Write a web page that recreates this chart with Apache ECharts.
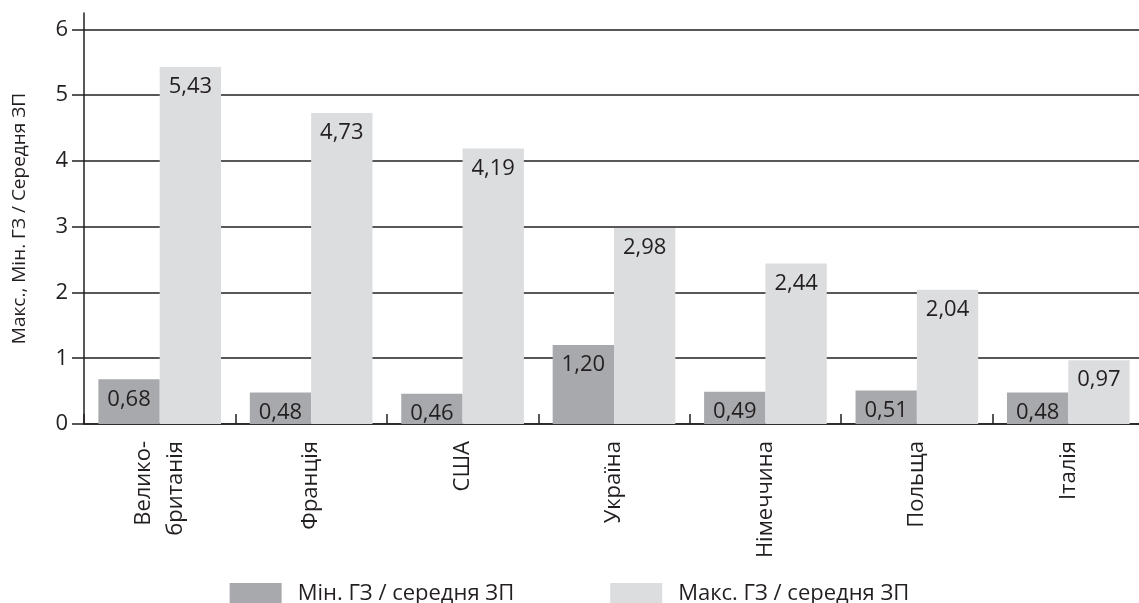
<!DOCTYPE html>
<html>
<head>
<meta charset="utf-8">
<script src="https://cdn.jsdelivr.net/npm/echarts@6/dist/echarts.min.js"></script>
<style>
html,body{margin:0;padding:0;background:#fff;}
#chart{width:1139px;height:603px;}
</style>
</head>
<body>
<div id="chart"></div>
<script>
var categories = ['Велико-\nбританія', 'Франція', 'США', 'Україна', 'Німеччина', 'Польща', 'Італія'];
var minSeries = [0.68, 0.48, 0.46, 1.20, 0.49, 0.51, 0.48];
var maxSeries = [5.43, 4.73, 4.19, 2.98, 2.44, 2.04, 0.97];
var seriesNames = ['Мін. ГЗ / середня ЗП', 'Макс. ГЗ / середня ЗП'];
var yTicks = [0, 1, 2, 3, 4, 5, 6];
var yTitle = 'Макс., Мін. ГЗ / Середня ЗП';

var FONT = '"Open Sans", "Noto Sans", sans-serif';
var INK = '#231f20';

function fmt(p) { return p.value.toFixed(2).replace('.', ','); }

var chart = echarts.init(document.getElementById('chart'), null, {renderer: 'canvas'});
var gridColors = yTicks.map(function(){ return INK; }).concat(['rgba(0,0,0,0)']);

chart.setOption({
  animation: false,
  backgroundColor: '#ffffff',
  textStyle: {fontFamily: FONT, color: INK},
  grid: {left: 84, right: -5, top: 13, bottom: 179, containLabel: false, outerBoundsMode: 'none'},
  legend: {
    data: seriesNames,
    left: 'center',
    top: 578,
    itemWidth: 52,
    itemHeight: 22,
    itemGap: 96,
    icon: 'rect',
    textStyle: {fontFamily: FONT, fontSize: 22, color: INK, padding: [0, 0, 0, 11]}
  },
  xAxis: {
    type: 'category',
    data: categories,
    axisLine: {show: true, lineStyle: {color: INK, width: 1.5}},
    axisTick: {show: true, inside: true, length: 10, lineStyle: {color: INK, width: 1.5}},
    axisLabel: {rotate: 90, margin: 17, fontFamily: FONT, fontSize: 22, color: INK, lineHeight: 32},
    splitLine: {show: false}
  },
  yAxis: {
    type: 'value',
    min: 0,
    max: 6.25,
    interval: 1,
    name: yTitle,
    nameLocation: 'middle',
    nameGap: 52,
    nameRotate: 90,
    nameTextStyle: {fontFamily: FONT, fontSize: 19, color: INK, lineHeight: 24},
    axisLine: {show: true, lineStyle: {color: INK, width: 1.5}},
    axisTick: {show: true, inside: false, length: 12, lineStyle: {color: INK, width: 1.5}, customValues: yTicks},
    axisLabel: {fontFamily: FONT, fontSize: 22, color: INK, margin: 16, customValues: yTicks},
    splitLine: {show: true, lineStyle: {color: gridColors, width: 1.5}}
  },
  series: [
    {
      name: seriesNames[0],
      type: 'bar',
      data: minSeries,
      barGap: '0%',
      barCategoryGap: '19%',
      itemStyle: {color: '#a7a9ac'},
      label: {show: true, position: 'insideTop', distance: 9, formatter: fmt, fontFamily: FONT, fontSize: 22, color: INK}
    },
    {
      name: seriesNames[1],
      type: 'bar',
      data: maxSeries,
      barGap: '0%',
      barCategoryGap: '19%',
      itemStyle: {color: '#dcdddf'},
      label: {show: true, position: 'insideTop', distance: 9, formatter: fmt, fontFamily: FONT, fontSize: 22, color: INK}
    }
  ]
});
</script>
</body>
</html>
